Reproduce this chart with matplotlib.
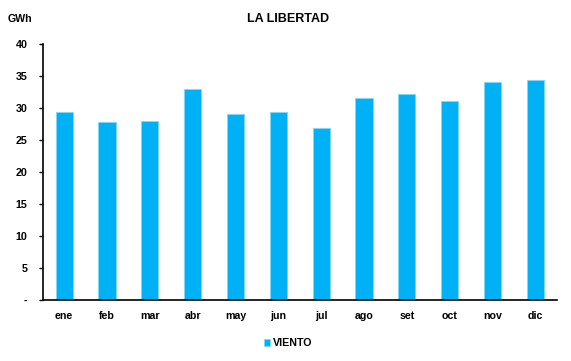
import matplotlib.pyplot as plt
import numpy as np

plt.rcParams["font.family"] = ["Liberation Sans", "DejaVu Sans"]

months = ["ene", "feb", "mar", "abr", "may", "jun", "jul", "ago", "set", "oct", "nov", "dic"]
viento = [29.5, 27.8, 28.0, 33.0, 29.1, 29.5, 27.0, 31.6, 32.3, 31.1, 34.2, 34.4]
yticks = [0, 5, 10, 15, 20, 25, 30, 35, 40]
ytick_labels = ["-", "5", "10", "15", "20", "25", "30", "35", "40"]

fig = plt.figure(figsize=(5.71, 3.61), dpi=100)
ax = fig.add_axes([0.0748, 0.168, 0.9002, 0.709])

x = np.arange(len(months))
ax.bar(x, viento, width=0.4, color="#00B2F5", edgecolor="#7FD8FA", linewidth=0.6, label="VIENTO")

ax.set_xlim(-0.5, len(months) - 0.5)
ax.set_ylim(0, 40)
ax.set_xticks(x)
ax.set_xticklabels(months, fontsize=7.7, fontweight="bold")
ax.set_yticks(yticks)
ax.set_yticklabels(ytick_labels, fontsize=7.7, fontweight="bold")
ax.tick_params(axis="x", length=0, pad=8)
ax.tick_params(axis="y", length=3, width=1, direction="out", pad=8)

for side in ["top", "right"]:
    ax.spines[side].set_visible(False)
ax.spines["left"].set_linewidth(1.2)
ax.spines["bottom"].set_linewidth(1.2)

fig.text(0.505, 0.947, "LA LIBERTAD", ha="center", va="center", fontsize=9, fontweight="bold")
fig.text(0.014, 0.947, "GWh", ha="left", va="center", fontsize=7.7, fontweight="bold")

fig.legend(loc="center", bbox_to_anchor=(0.505, 0.05), frameon=False,
           prop={"weight": "bold", "size": 7.7}, handlelength=0.6, handleheight=0.6,
           handletextpad=0.3)

fig.savefig("out.png", dpi=100)
